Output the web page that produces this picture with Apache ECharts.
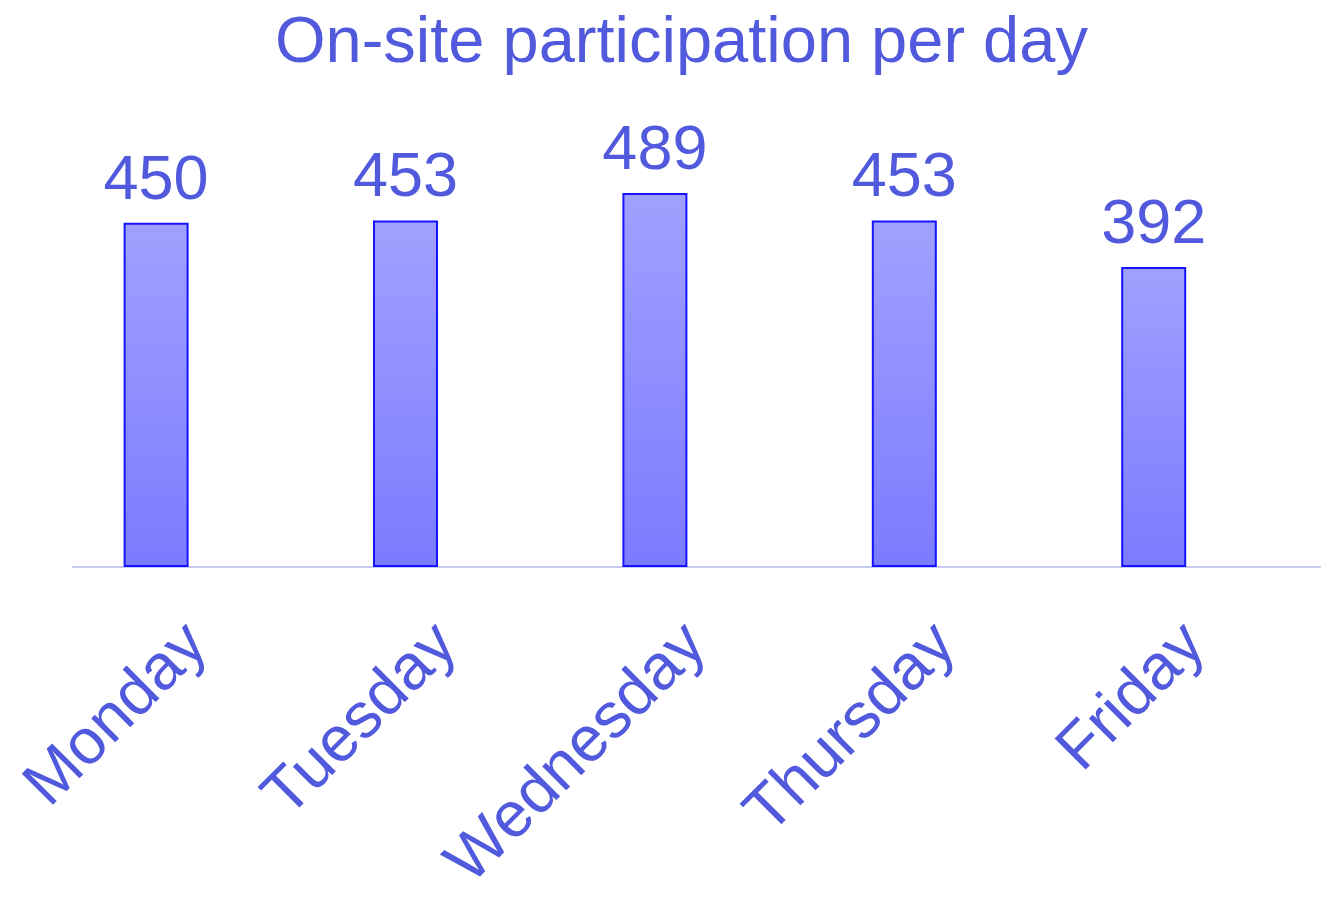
<!DOCTYPE html>
<html>
<head>
<meta charset="utf-8">
<script src="https://cdn.jsdelivr.net/npm/echarts@6/dist/echarts.min.js"></script>
<style>html,body{margin:0;padding:0;background:#fff}#chart{width:1332px;height:906px}</style>
</head>
<body>
<div id="chart"></div>
<script>
const titleText = 'On-site participation per day';
const categories = ['Monday', 'Tuesday', 'Wednesday', 'Thursday', 'Friday'];
const participation = [450, 453, 489, 453, 392];
const placeholderSeries = [null, null, null, null, null];

const textColor = '#5159dd';
const font = '"Liberation Sans", Arial, sans-serif';

const chart = echarts.init(document.getElementById('chart'), null, { renderer: 'canvas' });
chart.setOption({
  backgroundColor: '#ffffff',
  animation: false,
  title: {
    text: titleText,
    left: 270,
    top: 7,
    textStyle: { color: textColor, fontSize: 65, fontWeight: 'normal', fontFamily: font }
  },
  grid: { left: 73, right: 12, top: 108, bottom: 339, containLabel: false },
  xAxis: {
    type: 'category',
    data: categories,
    axisLine: { show: true, lineStyle: { color: '#c8ccf4', width: 2 } },
    axisTick: { show: false },
    axisLabel: {
      rotate: 45,
      margin: 68,
      color: textColor,
      fontSize: 64,
      fontFamily: font,
      interval: 0
    },
    splitLine: { show: false }
  },
  yAxis: {
    type: 'value',
    min: 0,
    max: 600,
    show: false,
    splitLine: { show: false }
  },
  series: [
    {
      type: 'bar',
      data: participation,
      barWidth: 65,
      barGap: '28%',
      itemStyle: {
        color: new echarts.graphic.LinearGradient(0, 0, 0, 1, [
          { offset: 0, color: '#a0a0ff' },
          { offset: 1, color: '#7b7bff' }
        ]),
        borderColor: '#1414ff',
        borderWidth: 2
      },
      label: {
        show: true,
        position: 'top',
        distance: 10,
        color: textColor,
        fontSize: 63,
        fontFamily: font
      }
    },
    {
      type: 'bar',
      data: placeholderSeries,
      barWidth: 65,
      silent: true
    }
  ]
});
</script>
</body>
</html>
